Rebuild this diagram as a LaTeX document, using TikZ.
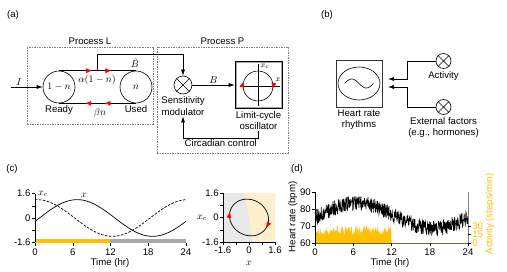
\documentclass[tikz,border=0pt]{standalone}
\usepackage{fontspec}
\setmainfont{Liberation Sans}
\usetikzlibrary{positioning,arrows.meta,decorations.markings}

\definecolor{actgold}{RGB}{255,192,0}
\definecolor{nightgray}{RGB}{168,168,168}
\definecolor{dayshade}{RGB}{254,240,204}
\definecolor{nightshade}{RGB}{232,232,232}
\definecolor{baseolive}{RGB}{120,100,40}

\begin{document}
\begin{tikzpicture}[x=1pt, y=-1pt, >={Latex[length=6pt,width=4pt]}, node distance=1pt, semithick,
  every node/.style={font=\fontsize{9.6}{11.5}\selectfont, inner sep=1pt},
  pool/.style={draw, circle, minimum size=32pt, inner sep=0pt},
  mixer/.style={draw, circle, minimum size=#1, inner sep=0pt},
  procbox/.style={draw=gray, dash pattern=on 1.5pt off 1pt, line width=0.4pt},
  redmarks/.style 2 args={postaction={decorate}, decoration={markings,
      mark=at position #1 with {\arrow[red]{Latex[length=6pt,width=5pt]}},
      mark=at position #2 with {\arrow[red]{Latex[length=6pt,width=5pt]}}}},
  redtip/.style={red, -{Latex[length=6pt,width=5pt]}},
  axisline/.style={line width=0.4pt},
  small/.style={font=\fontsize{8}{9}\selectfont}]
\useasboundingbox (0,0) rectangle (507,272);

\node (lbla) at (13,15) {(a)};
\node[procbox, minimum width=126pt, minimum height=77pt] (procL) at (90,85.5) {};
\node[above=1pt of procL] (procLtitle) {Process L};
\node[procbox, minimum width=131pt, minimum height=106pt] (procP) at (222.5,100) {};
\node[above=1pt of procP] (procPtitle) {Process P};

\node[pool] (ready) at (59,87) {$1-n$};
\node[pool] (used) at (136,87) {$n$};
\node[below=1pt of ready] (readytxt) {Ready};
\node[below=1pt of used] (usedtxt) {Used};
\draw[redmarks={0.43}{0.68}] (ready.north) -- coordinate[pos=0.5] (tap) (used.north);
\draw[redmarks={0.41}{0.66}] (used.south) -- (ready.south);
\node (rateup) at (97,80) {$\alpha(1-n)$};
\node (ratedown) at (100,113) {$\beta n$};
\coordinate (inflow) at (11,87);
\draw[->] (inflow) -- node[above, pos=0.25] (inlbl) {$I$} (ready.west);

\node[mixer=18pt] (mod) at (183,85) {};
\node[below=1pt of mod, align=center] (modtxt) {Sensitivity\\modulator};
\draw[->] (tap) -- ++(0,-16) -| (mod.north);
\node[inner sep=0pt] (bhat) at (135,63) {$\hat{B}$};

\node[draw, minimum width=47pt, minimum height=47pt, inner sep=0pt] (lc) at (258.5,85) {};
\draw[gray!70] ([shift={(1.5,1.5)}]lc.north west) rectangle ([shift={(-1.5,-1.5)}]lc.south east);
\coordinate (lcc) at (258,86);
\draw ([xshift=-18pt]lcc) -- ([xshift=22pt]lcc) ([yshift=22pt]lcc) -- ([yshift=-20pt]lcc);
\draw[postaction={decorate}, decoration={markings,
    mark=at position 0.45 with {\arrowreversed[red]{Latex[length=6pt,width=5pt]}},
    mark=at position 0.97 with {\arrowreversed[red]{Latex[length=6pt,width=5pt]}}}]
  (lcc) circle[radius=15pt];
\node[small] (xclc) at (265,66) {$x_c$};
\node[small] (xlc) at (278,80) {$x$};
\node[below=1pt of lc, align=center] (lctxt) {Limit-cycle\\oscillator};
\draw[->] (mod) -- node[above] (blbl) {$B$} (lc);
\draw[->] (lctxt.south) -- ++(0,7) -| node[below, pos=0.25] (circ) {Circadian control} (modtxt.south);

\node (lblb) at (327,15) {(b)};
\node[draw=black!80, minimum width=46pt, minimum height=47pt, inner sep=0pt] (hrbox) at (359,83.5) {};
\draw (hrbox.center) ellipse[x radius=21pt, y radius=16.5pt];
\draw[shift={(hrbox.center)}] plot[domain=0:360, samples=40, smooth] ({-14.5+29*\x/360}, {-4.5*sin(\x)});
\node[below=1pt of hrbox, align=center] (hrtxt) {Heart rate\\rhythms};
\node[mixer=15pt] (act) at (443.5,61) {};
\node[mixer=15pt] (ext) at (443.5,107) {};
\node[below=1pt of act] (acttxt) {Activity};
\node[below=1pt of ext, align=center] (exttxt) {External factors\\(e.g., hormones)};
\coordinate (hrinA) at (388,79);
\coordinate (hrinB) at (388,87);
\draw[->] (act.west) -- ++(-28,0) |- (hrinA);
\draw[->] (ext.west) -- ++(-28,0) |- (hrinB);
\foreach \m in {mod,act,ext}
  \draw (\m.north east) -- (\m.south west) (\m.north west) -- (\m.south east);

\node (lblc) at (12,169) {(c)};
\begin{scope}[shift={(35,218)}, x=6.29pt, y=15.3pt]
  \fill[actgold] (0,-1.65) rectangle (12,-1.37);
  \fill[nightgray] (12,-1.65) rectangle (24,-1.37);
  \draw[axisline] (0,-1.6) -- (0,1.6);
  \foreach \v in {-1.6,-0.8,0,0.8,1.6} \draw[axisline] (0,\v) -- ++(-3pt,0);
  \foreach \t in {0,6,...,24} {
    \draw[axisline] (\t,-1.65) -- ++(0,-3pt);
    \node[anchor=north] (ct\t) at (\t,-1.9) {\t};
  }
  \foreach \v [count=\i] in {-1.6,0,1.6} \node[anchor=east] (cy\i) at (-0.5,\v) {\v};
  \draw[line width=0.7pt, dash pattern=on 2.5pt off 1.5pt] plot[domain=0:24, samples=97, smooth] (\x, {1.2*cos(15*(\x-0.3))});
  \draw[line width=0.7pt] plot[domain=0:24, samples=97, smooth] (\x, {1.2*sin(15*(\x-0.7))});
\end{scope}
\node (xclab) at (43,194) {$x_c$};
\node (xlab) at (84,195) {$x$};
\node (ctime) at (110,263) {Time (hr)};

\begin{scope}[shift={(249,217.5)}, x=16.25pt, y=15.3pt]
  \fill[nightshade] (-1.6,1.6) -- (-0.25,1.6) -- (0.25,-1.6) -- (-1.6,-1.6) -- cycle;
  \fill[dayshade] (-0.25,1.6) -- (1.6,1.6) -- (1.6,-1.6) -- (0.25,-1.6) -- cycle;
  \draw[axisline] (-1.6,1.6) -- (-1.6,-1.6) -- (1.6,-1.6);
  \foreach \v in {-1.6,-0.8,0,0.8,1.6} {
    \draw[axisline] (-1.6,\v) -- ++(-3pt,0);
    \draw[axisline] (\v,-1.6) -- ++(0,-3pt);
  }
  \foreach \v [count=\i] in {-1.6,0,1.6} {
    \node[anchor=east] (py\i) at ([xshift=-3pt]-1.6,\v) {\v};
    \node[anchor=north] (px\i) at ([yshift=-4pt]\v,-1.6) {\v};
  }
  \draw[line width=0.7pt] plot[domain=0:24, samples=97, smooth] ({1.2*sin(15*(\x-0.7))}, {1.2*cos(15*(\x-0.3))});
  \draw[redtip] plot[domain=19.1:19.5, samples=2] ({1.2*sin(15*(\x-0.7))}, {1.2*cos(15*(\x-0.3))});
  \draw[redtip] plot[domain=8.2:8.6, samples=2] ({1.2*sin(15*(\x-0.7))}, {1.2*cos(15*(\x-0.3))});
\end{scope}
\node (pxclab) at (202,218) {$x_c$};
\node (pxlab) at (249,263) {$x$};

\node (lbld) at (297,169) {(d)};
\begin{scope}[shift={(315,243)}, x=6.375pt, y=1.7pt]
  \pgfmathsetseed{4}
  \fill[actgold] (0,0) -- plot[domain=0:12, samples=180] (\x, {(22+9*rand)/3}) -- (12,0) -- cycle;
  \draw[line width=0.6pt] plot[domain=0:24, samples=520] (\x, {16+7.5*sin(15*(\x-0.5))+4.5*rand});
  \draw[axisline] (0,30) -- (0,0);
  \draw[axisline, gray] (24,0) -- (24,30);
  \draw[axisline, baseolive] (0,0) -- (24,0);
  \foreach \v in {60,70,80,90} {
    \draw[axisline] (0,\v-60) -- ++(-3pt,0);
    \node[anchor=east] (dy\v) at ([xshift=-3pt]0,\v-60) {\v};
  }
  \foreach \a in {0,15,30} {
    \draw[axisline] (24,\a/3) -- ++(3pt,0);
    \node[anchor=west, text=actgold] (da\a) at ([xshift=3pt]24,\a/3) {\a};
  }
  \foreach \t in {0,6,...,24} {
    \draw[axisline] (\t,0) -- ++(0,-3pt);
    \node[anchor=north] (dt\t) at ([yshift=-4pt]\t,0) {\t};
  }
\end{scope}
\node[rotate=90] (hrlab) at (293,217) {Heart rate (bpm)};
\node[rotate=90, text=actgold] (actlab) at (490,214) {Activity (steps/min)};
\node (dtime) at (390,263) {Time (hr)};
\end{tikzpicture}
\end{document}
